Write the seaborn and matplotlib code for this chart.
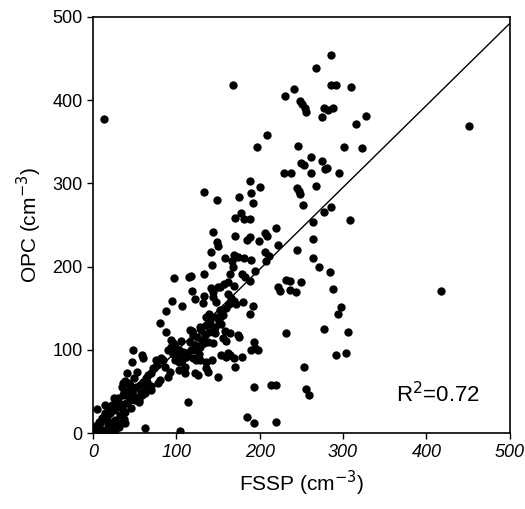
# Scatter of OPC vs FSSP number concentration with fitted line

import seaborn as sns
import matplotlib.pyplot as plt
import pandas as pd

fssp = [286, 267, 168, 286, 291, 310, 241, 230, 248, 251, 254, 255, 13, 451, 277, 282, 275, 288,
        315, 327, 209, 197, 246, 301, 323, 262, 249, 253, 275, 278, 281, 262, 229, 237, 295, 268,
        245, 247, 248, 252, 286, 277, 264, 308, 264, 245, 264, 271, 284, 249, 231, 236, 222, 224,
        236, 243, 288, 297, 294, 232, 277, 306, 292, 304, 253, 256, 259, 214, 219, 193, 185, 193,
        220, 418, 114, 105, 63,
        133, 149, 188, 200, 175, 190, 192, 178, 181, 171, 188, 219, 206, 209, 144, 171, 185, 188,
        199, 222, 149, 150, 142, 159, 143, 169, 174, 167, 181, 190, 206, 211, 207, 195, 168, 165,
        179, 183, 188, 97, 115, 118, 133, 119, 142, 144, 152, 150, 157, 162, 169, 162, 166, 133,
        95, 107, 88, 123, 132, 144, 148, 169, 172, 180, 192, 188, 139, 136, 141, 154, 154, 130,
        117, 119, 80, 88, 145, 147, 159, 164, 174, 175, 156, 160, 94, 96, 106, 116, 131, 133,
        138, 144, 193, 195, 198, 190, 162, 165, 154, 169, 171, 143, 124, 127, 113, 101, 104, 90,
        94, 120, 124, 129, 136, 179, 160, 99, 103, 107, 110, 110, 103, 123, 126, 136, 138, 150,
        92, 90, 76, 82, 72, 70, 80, 78, 70, 59, 60, 48, 47, 41, 53, 49, 65, 61, 70,
        5, 15, 25, 28, 35, 36, 37, 41, 45, 43, 47, 51, 55, 59, 63, 39, 37, 39, 31, 21, 19, 11, 7,
        2, 5, 9, 13, 17, 21, 25, 29, 31, 23, 19, 15, 11, 7, 3, 27, 33, 35, 40, 44, 30, 36, 48,
        52, 56, 60, 64, 66, 62, 58, 42, 38, 45, 50, 55, 46, 33, 28, 22, 18, 26,
        73, 77, 84, 86, 96, 99, 103, 108, 112, 118, 122, 128, 125, 134, 139, 146, 151, 156, 160,
        163, 153, 148, 141, 136, 128, 120]
opc = [454, 439, 418, 418, 418, 416, 413, 405, 399, 395, 391, 386, 377, 369, 390, 388, 380, 391,
       371, 381, 358, 344, 345, 344, 342, 332, 324, 322, 327, 317, 319, 313, 312, 313, 313, 297,
       294, 291, 287, 274, 271, 266, 254, 256, 233, 220, 210, 200, 194, 182, 184, 183, 175, 171,
       172, 170, 173, 151, 143, 120, 125, 122, 94, 96, 80, 53, 46, 58, 58, 55, 19, 12,
       13, 171, 38, 3, 6,
       290, 280, 303, 296, 284, 288, 276, 264, 257, 258, 257, 246, 240, 237, 242, 237, 232, 235,
       231, 226, 230, 225, 218, 210, 202, 214, 212, 207, 210, 208, 218, 213, 207, 195, 199, 191,
       191, 187, 183, 186, 188, 189, 191, 171, 174, 169, 175, 176, 179, 182, 177, 167, 162, 165,
       159, 153, 147, 161, 156, 163, 157, 159, 155, 157, 153, 143, 143, 139, 131, 141, 131, 124,
       124, 123, 132, 121, 124, 120, 123, 120, 118, 116, 114, 111, 112, 108, 111, 109, 111, 108,
       110, 108, 110, 102, 100, 100, 96, 94, 94, 90, 80, 88, 100, 95, 96, 98, 95, 100,
       104, 90, 88, 88, 86, 92, 92, 88, 86, 88, 80, 72, 76, 72, 70, 78, 73, 68,
       74, 68, 88, 90, 78, 72, 64, 60, 52, 94, 90, 100, 86, 72, 74, 66, 62, 58, 57,
       29, 34, 42, 38, 56, 60, 49, 50, 54, 44, 46, 44, 40, 46, 48, 12, 17, 26, 7, 6, 2, 4, 1,
       1, 6, 12, 17, 20, 24, 28, 32, 36, 34, 30, 24, 18, 14, 8, 16, 22, 30, 36, 40, 42, 46, 52,
       56, 58, 62, 66, 70, 52, 48, 60, 63, 58, 40, 38, 30, 12, 8, 12, 10, 4,
       78, 82, 88, 80, 95, 105, 100, 98, 92, 100, 106, 104, 115, 118, 122, 128, 135, 142, 150,
       155, 148, 140, 136, 130, 128, 118]

fit_x = [0, 500]
fit_y = [0, 492]

ticks = [0, 100, 200, 300, 400, 500]
tick_labels = ['0', '100', '200', '300', '400', '500']

df = pd.DataFrame({'FSSP': fssp, 'OPC': opc})

sns.set_style("ticks")
plt.rcParams['font.family'] = ['Liberation Sans', 'DejaVu Sans']
plt.rcParams['text.color'] = 'black'
plt.rcParams['axes.labelcolor'] = 'black'

fig = plt.figure(figsize=(5.25, 5.09), dpi=100)
ax = fig.add_axes([0.177, 0.149, 0.794, 0.818])
sns.scatterplot(x='FSSP', y='OPC', data=df, ax=ax, color='black', s=36,
                edgecolor='black', linewidth=0, legend=False)
sns.lineplot(x=fit_x, y=fit_y, ax=ax, color='black', linewidth=1)

ax.set_xlim(0, 500)
ax.set_ylim(0, 500)
ax.set_xticks(ticks)
ax.set_yticks(ticks)
ax.set_xticklabels(tick_labels, fontstyle='italic')
ax.set_yticklabels(tick_labels)
ax.tick_params(direction='out', length=4, width=1, labelsize=13, colors='black')
for sp in ax.spines.values():
    sp.set_visible(True)
    sp.set_color('black')
    sp.set_linewidth(1.2)

ax.set_xlabel('FSSP (cm$^{-3}$)', fontsize=15, labelpad=6)
ax.set_ylabel('OPC (cm$^{-3}$)', fontsize=15, labelpad=6)
ax.text(364, 46, 'R$^2$=0.72', fontsize=16, ha='left', va='center')

plt.savefig('out.png', dpi=100)
